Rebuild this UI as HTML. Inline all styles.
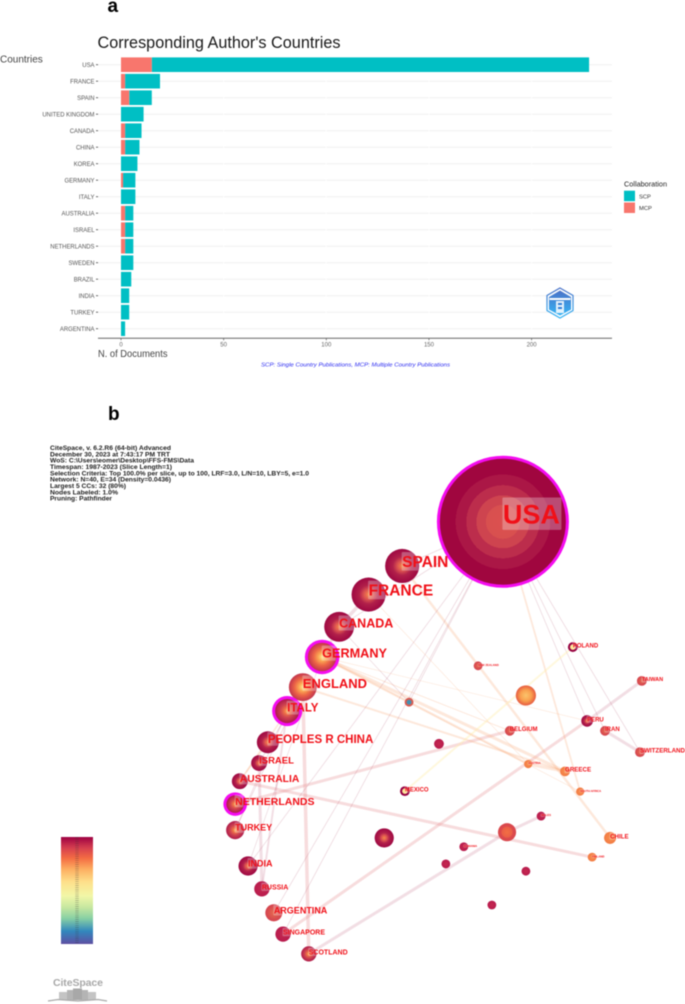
<!DOCTYPE html>
<html lang="en">
<head>
<meta charset="utf-8">
<title>Corresponding Author's Countries and Country Collaboration Network</title>
<style>
html,body{margin:0;padding:0;background:#fff;}
#figure{display:block;width:685px;height:1004px;filter:blur(0.5px);font-family:"Liberation Sans",sans-serif;}
</style>
</head>
<body>
<svg id="figure" xmlns="http://www.w3.org/2000/svg" width="685" height="1004" viewBox="0 0 685 1004">
<defs>
<radialGradient id="era-usa"><stop offset="0" stop-color="#dc5050"/><stop offset=".27" stop-color="#d8504f"/><stop offset=".27" stop-color="#ce444f"/><stop offset=".42" stop-color="#ce444f"/><stop offset=".42" stop-color="#bc2d4c"/><stop offset=".58" stop-color="#bc2d4c"/><stop offset=".58" stop-color="#ab1746"/><stop offset=".75" stop-color="#ab1746"/><stop offset=".75" stop-color="#a0063f"/><stop offset="1" stop-color="#a0063f"/></radialGradient>
<radialGradient id="era-dark"><stop offset="0" stop-color="#f58a4b"/><stop offset=".28" stop-color="#dd5450"/><stop offset=".55" stop-color="#b1204a"/><stop offset="1" stop-color="#9e0742"/></radialGradient>
<radialGradient id="era-warm"><stop offset="0" stop-color="#fee58b"/><stop offset=".28" stop-color="#fba752"/><stop offset=".6" stop-color="#ec6546"/><stop offset="1" stop-color="#c2344c"/></radialGradient>
<radialGradient id="era-mid"><stop offset="0" stop-color="#f9b25e"/><stop offset=".25" stop-color="#ee7046"/><stop offset=".55" stop-color="#cf4450"/><stop offset="1" stop-color="#ae1a4a"/></radialGradient>
<radialGradient id="era-crimson"><stop offset="0" stop-color="#c42a50"/><stop offset="1" stop-color="#b81a4d"/></radialGradient>
<radialGradient id="era-orange"><stop offset="0" stop-color="#f79050"/><stop offset="1" stop-color="#f27a42"/></radialGradient>
<radialGradient id="era-red"><stop offset="0" stop-color="#e66a50"/><stop offset="1" stop-color="#d3424f"/></radialGradient>
<radialGradient id="era-ring"><stop offset="0" stop-color="#fff3a0"/><stop offset=".42" stop-color="#fde68c"/><stop offset=".52" stop-color="#f7c9a0"/><stop offset=".62" stop-color="#8e0140"/><stop offset="1" stop-color="#9e0142"/></radialGradient>
<radialGradient id="era-blue"><stop offset="0" stop-color="#3a92b4"/><stop offset=".5" stop-color="#4c8fb0"/><stop offset=".62" stop-color="#d9604f"/><stop offset="1" stop-color="#d5504f"/></radialGradient>
<radialGradient id="era-amber"><stop offset="0" stop-color="#fbc46c"/><stop offset=".55" stop-color="#f9a04f"/><stop offset="1" stop-color="#e65a40"/></radialGradient>
<radialGradient id="era-flame"><stop offset="0" stop-color="#f26f43"/><stop offset=".6" stop-color="#ea5d47"/><stop offset=".62" stop-color="#dd4b4c"/><stop offset="1" stop-color="#d8464c"/></radialGradient>
<linearGradient id="colorbar-gradient" x1="0" y1="0" x2="0" y2="1">
<stop offset="0" stop-color="#9e0142"/><stop offset=".1" stop-color="#d53e4f"/><stop offset=".2" stop-color="#f46d43"/><stop offset=".3" stop-color="#fdae61"/><stop offset=".42" stop-color="#fee08b"/><stop offset=".55" stop-color="#f2f7a8"/><stop offset=".66" stop-color="#c5e7a0"/><stop offset=".76" stop-color="#88d0a4"/><stop offset=".88" stop-color="#3288bd"/><stop offset="1" stop-color="#5e4fa2"/>
</linearGradient>
<linearGradient id="logo-gradient" x1="0" y1="0" x2="0" y2="1"><stop offset="0" stop-color="#4a72c8"/><stop offset="1" stop-color="#36b4f4"/></linearGradient>
</defs>

<text x="107.500" y="12" font-size="19" font-weight="bold" fill="#000">a</text>
<text x="97.500" y="48" font-size="17" fill="#1a1a1a" textLength="243" lengthAdjust="spacingAndGlyphs">Corresponding Author's Countries</text>
<text x="0" y="62.500" font-size="10" fill="#444">Countries</text>
<g id="bar-chart"></g>
<text x="98" y="357" font-size="10" fill="#444" textLength="69.500" lengthAdjust="spacingAndGlyphs">N. of Documents</text>
<text x="261" y="366.500" font-size="5.600" font-style="italic" fill="#2a2af0" textLength="189" lengthAdjust="spacingAndGlyphs">SCP: Single Country Publications, MCP: Multiple Country Publications</text>

<g>
<text x="624" y="186.500" font-size="7.300" fill="#222">Collaboration</text>
<rect x="624" y="190.700" width="11" height="10.500" fill="#00bfc4"/>
<text x="639" y="198.500" font-size="5.800" fill="#333">SCP</text>
<rect x="624" y="202.500" width="11" height="10.500" fill="#f8766d"/>
<text x="639" y="210.200" font-size="5.800" fill="#333">MCP</text>
</g>

<g>
<polygon points="560,288 573,295.500 573,310.500 560,318 547,310.500 547,295.500" fill="#fff" stroke="url(#logo-gradient)" stroke-width="1.200"/>
<polygon points="560,290.500 571,297 571,309.500 560,315.500 549,309.500 549,297" fill="url(#logo-gradient)"/>
<rect x="549.500" y="298" width="21" height="2" fill="#fff"/>
<rect x="556" y="301" width="8" height="12" fill="#fff" opacity=".85"/>
<rect x="558" y="303" width="4" height="2" fill="#2f7fd8"/>
<rect x="558" y="307" width="4" height="2" fill="#2f7fd8"/>
</g>

<text x="108" y="420" font-size="19" font-weight="bold" fill="#000">b</text>

<g font-size="6.700" font-weight="bold" fill="#222">
<text x="50" y="450" textLength="121" lengthAdjust="spacingAndGlyphs">CiteSpace, v. 6.2.R6 (64-bit) Advanced</text>
<text x="50" y="456.300" textLength="120" lengthAdjust="spacingAndGlyphs">December 30, 2023 at 7:43:17 PM TRT</text>
<text x="50" y="462.700" textLength="144" lengthAdjust="spacingAndGlyphs">WoS: C:\Users\eomer\Desktop\FFS-FMS\Data</text>
<text x="50" y="469" textLength="122" lengthAdjust="spacingAndGlyphs">Timespan: 1987-2023 (Slice Length=1)</text>
<text x="50" y="475.300" textLength="259" lengthAdjust="spacingAndGlyphs">Selection Criteria: Top 100.0% per slice, up to 100, LRF=3.0, L/N=10, LBY=5, e=1.0</text>
<text x="50" y="481.700" textLength="121" lengthAdjust="spacingAndGlyphs">Network: N=40, E=34 (Density=0.0436)</text>
<text x="50" y="488" textLength="76" lengthAdjust="spacingAndGlyphs">Largest 5 CCs: 32 (80%)</text>
<text x="50" y="494.300" textLength="68" lengthAdjust="spacingAndGlyphs">Nodes Labeled: 1.0%</text>
<text x="50" y="500.700" textLength="62" lengthAdjust="spacingAndGlyphs">Pruning: Pathfinder</text>
</g>

<g id="network"></g>

<g>
<rect x="61" y="837" width="32" height="107" fill="url(#colorbar-gradient)"/>
<line x1="77" y1="837" x2="77" y2="944" stroke="#333" stroke-opacity=".4" stroke-width="3.500" stroke-dasharray="0.700 1.400"/>
</g>

<g>
<text x="53" y="986" font-size="10.500" font-weight="bold" fill="#a8a8a8" textLength="50" lengthAdjust="spacing">CiteSpace</text>
<rect x="59" y="992" width="8" height="8" fill="#c4c4c4"/>
<rect x="67" y="990" width="6" height="10" fill="#b4b4b4"/>
<rect x="73" y="988.500" width="9" height="11.500" fill="#a8a8a8"/>
<rect x="82" y="990" width="6" height="10" fill="#b4b4b4"/>
<rect x="88" y="992" width="8" height="8" fill="#c4c4c4"/>
<path d="M48 1001 L58 999.500 L78 1001 L98 999.500 L107 1001" fill="none" stroke="#aaa" stroke-width="1.200"/>
</g>
</svg>

<script>
// ---------- Panel a data ----------
const countries = ["USA","FRANCE","SPAIN","UNITED KINGDOM","CANADA","CHINA","KOREA","GERMANY","ITALY","AUSTRALIA","ISRAEL","NETHERLANDS","SWEDEN","BRAZIL","INDIA","TURKEY","ARGENTINA"];
const mcpValues = [15,2,4,0,2,2,0,1,0,2,2,2,0,0,0,0,0];
const scpValues = [213,17,11,11,8,7,8,6,7,4,4,4,6,5,4,4,2];
const xTicks = [0,50,100,150,200];

// ---------- Panel b data (layout units: 0-100 on each axis) ----------
const nodeNames = ["USA","SPAIN","FRANCE","CANADA","GERMANY","ENGLAND","ITALY","PEOPLES R CHINA","ISRAEL","AUSTRALIA","NETHERLANDS","TURKEY","INDIA","RUSSIA","ARGENTINA","SINGAPORE","SCOTLAND","POLAND","NEW ZEALAND","TAIWAN","N1","N2","PERU","IRAN","SWITZERLAND","BELGIUM","N3","AUSTRIA","GREECE","MEXICO","SOUTH AFRICA","WALES","N4","N5","ROMANIA","CHILE","FINLAND","N6","N7","N8"];
const nodeLayoutX = [61.5,39.6,32.3,25.9,22.2,18.0,14.6,10.4,8.5,4.3,3.3,3.3,6.1,9.1,11.7,13.7,19.3,76.7,56.1,91.7,66.5,41.1,79.8,83.7,91.3,63.0,47.6,67.0,75.0,40.2,78.3,69.8,35.7,62.4,53.0,84.8,80.9,49.1,66.5,59.1];
const nodeLayoutY = [13.8,22.3,27.8,34.0,39.8,45.6,50.2,56.2,60.2,63.7,68.1,73.1,80.0,84.4,89.0,93.1,96.9,37.9,41.5,44.4,47.2,48.5,52.1,54.0,58.1,54.0,56.5,60.4,61.8,65.6,65.7,70.4,74.6,73.5,76.3,74.6,78.3,79.6,81.0,87.5];
const nodeFreq = [820,60,60,46,42,40,30,25,13,13,16,17,19,12,15,12,12,5,4,5,21,4,7,5,5,5,5,3.500,5,5,3.500,4,19,17,4,7.500,4,4,4,4];
const nodeEra = ["usa","dark","dark","dark","warm","warm","mid","dark","dark","dark","mid","mid","dark","crimson","red","crimson","mid","ring","red","red","amber","blue","dark","red","red","red","crimson","orange","orange","ring","orange","crimson","dark","flame","crimson","orange","orange","crimson","crimson","crimson"];
const nodeHalo = ["USA","GERMANY","ITALY","NETHERLANDS"];
const nodeLabelPt = [27,15.500,15.500,12.500,12.700,13,11.500,11.500,9.500,10.300,10.500,9,9,7,9,7,7,6,2.800,5.500,0,0,6,6,6.200,6,0,2.800,6.200,6,2.800,2.800,0,0,2.800,6.200,2.800,0,0,0];

const edgeFrom = ["SCOTLAND","N5","SINGAPORE","NETHERLANDS","AUSTRALIA","FRANCE","CANADA","ISRAEL","ENGLAND","ITALY","GERMANY","GERMANY","ENGLAND","GERMANY","AUSTRIA","IRAN","TAIWAN","SPAIN","USA","USA","USA","USA","USA","USA","USA","USA","USA","USA","MEXICO","GERMANY","GERMANY","ITALY","CHINA","ENGLAND","INDIA","TURKEY","CANADA","AUSTRALIA","FRANCE"];
const edgeTo = ["N5","WALES","PERU","BELGIUM","FINLAND","CANADA","GERMANY","RUSSIA","SCOTLAND","RUSSIA","GREECE","AUSTRIA","GREECE","BELGIUM","GREECE","SWITZERLAND","PERU","CHILE","SOUTH AFRICA","PERU","IRAN","SWITZERLAND","N2","INDIA","ARGENTINA","SINGAPORE","CANADA","SPAIN","POLAND","PERU","SOUTH AFRICA","TURKEY","AUSTRALIA","ISRAEL","GERMANY","ENGLAND","N2","ITALY","AUSTRIA"];
const edgeWeight = [3,3,3,3,3,3.500,2.500,3,3.500,2,3,2.500,2,1,3,3,3,2.500,1.800,.8,.8,.8,.8,.8,.8,.8,.8,.8,2,.7,.7,1,1.500,1,.7,.8,.7,1.500,.7];
const edgeKind = ["mauve","mauve","pink","pink","pink","mauve","pink","mauve","pink","mauve","peach","peach","peach","peach","peach","mauve","mauve","peach","peach","wine","wine","wine","wine","wine","wine","wine","wine","wine","yellow","peach","peach","mauve","peach","wine","wine","wine","wine","peach","peach"];

const NS = "http://www.w3.org/2000/svg";
function mk(tag, attrs, parent) {
  const e = document.createElementNS(NS, tag);
  for (const k in attrs) e.setAttribute(k, attrs[k]);
  parent.appendChild(e);
  return e;
}

// ---------- Panel a ----------
const chart = document.getElementById("bar-chart");
const plotLeft = 98, plotRight = 612, axisY = 338.3;
const xScale = v => 121 + v * 2.053;
const yScale = i => 64.7 + i * 16.5;
const barHeight = 14.6;

countries.forEach((name, i) => {
  const grid = mk("line", {x1: plotLeft, x2: plotRight, y1: yScale(i), y2: yScale(i), stroke: "#efefef", "stroke-width": 1}, chart);
  
  
});
xTicks.forEach(t => {
  const v = mk("line", {x1: xScale(t), x2: xScale(t), y1: 56, y2: axisY, stroke: "#fff", "stroke-width": 1}, chart);
  
  
});
countries.forEach((name, i) => {
  const y = yScale(i);
  const tick = mk("line", {x1: 96, x2: 98, y1: y, y2: y, stroke: "#444", "stroke-width": .8}, chart);
  
  
  const label = mk("text", {x: 94.5, y: y + 2.1, "text-anchor": "end", "font-size": 5.95, fill: "#555"}, chart);
  label.textContent = name;
  
  
  const scp = mk("rect", {x: xScale(mcpValues[i]), y: y - barHeight / 2, width: xScale(mcpValues[i] + scpValues[i]) - xScale(mcpValues[i]), height: barHeight, fill: "#00bfc4"}, chart);
  
  
  if (mcpValues[i] > 0) {
    const mcp = mk("rect", {x: xScale(0), y: y - barHeight / 2, width: xScale(mcpValues[i]) - xScale(0), height: barHeight, fill: "#f8766d"}, chart);
    
    
  }
});
const axisLine = mk("line", {x1: plotLeft, x2: plotRight, y1: axisY, y2: axisY, stroke: "#666", "stroke-width": 1}, chart);


xTicks.forEach(t => {
  const tick = mk("line", {x1: xScale(t), x2: xScale(t), y1: axisY, y2: axisY + 2, stroke: "#666", "stroke-width": .8}, chart);
  
  
  const label = mk("text", {x: xScale(t), y: axisY + 8, "text-anchor": "middle", "font-size": 6, fill: "#666"}, chart);
  label.textContent = t;
  
  
});

// ---------- Panel b ----------
const net = document.getElementById("network");
const netX = v => 220 + v * 4.6;
const netY = v => 450 + v * 5.2;
const netR = f => 2.2 * Math.sqrt(f);
const edgeColors = {
  pink: "rgba(225,120,125,.26)",
  mauve: "rgba(190,90,120,.2)",
  peach: "rgba(248,165,115,.26)",
  wine: "rgba(165,60,90,.2)",
  yellow: "rgba(254,238,170,.4)"
};
function nodeIndex(name) {
  return name === "CHINA" ? nodeNames.indexOf("PEOPLES R CHINA") : nodeNames.indexOf(name);
}
edgeFrom.forEach((from, i) => {
  const a = nodeIndex(from), b = nodeIndex(edgeTo[i]);
  const edge = mk("line", {x1: netX(nodeLayoutX[a]), y1: netY(nodeLayoutY[a]), x2: netX(nodeLayoutX[b]), y2: netY(nodeLayoutY[b]), stroke: edgeColors[edgeKind[i]], "stroke-width": edgeWeight[i]}, net);
  
  
});
nodeNames.forEach((name, i) => {
  const cx = netX(nodeLayoutX[i]), cy = netY(nodeLayoutY[i]), r = netR(nodeFreq[i]);
  if (nodeHalo.includes(name)) {
    const halo = mk("circle", {cx, cy, r: r + 3, fill: "#f40cf0"}, net);
    
    
  }
  const node = mk("circle", {cx, cy, r, fill: "url(#era-" + nodeEra[i] + ")"}, net);
  
  
});
nodeNames.forEach((name, i) => {
  const pt = nodeLabelPt[i];
  if (!pt) return;
  const cx = netX(nodeLayoutX[i]), cy = netY(nodeLayoutY[i]), r = netR(nodeFreq[i]);
  const ly = cy - 0.3 * pt;
  const label = mk("text", {x: cx, y: ly + pt * 0.36, "font-size": pt, "font-weight": "bold", fill: "#f01018"}, net);
  label.textContent = name;
  
  
  const boxW = name === "USA" ? label.getComputedTextLength() + 2 : Math.min(r, label.getComputedTextLength());
  const box = mk("rect", {x: cx - 0.5, y: ly - pt * 0.6, width: boxW, height: pt * 1.2, rx: 1, fill: "#fff", "fill-opacity": .28}, net);
  
  
  net.insertBefore(box, label);
});
</script>
</body>
</html>
